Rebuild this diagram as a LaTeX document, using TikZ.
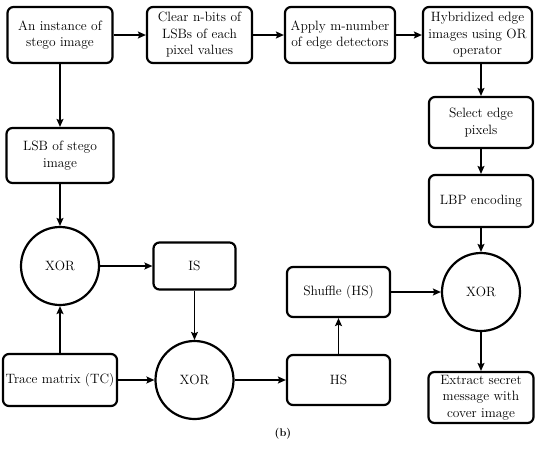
\documentclass[tikz,border=0pt]{standalone}
\usetikzlibrary{arrows.meta}
\begin{document}
\begin{tikzpicture}[x=1pt,y=-1pt,
  box/.style={draw,line width=2.2pt,rounded corners=6pt,align=center,inner sep=0pt,
    font=\fontsize{13.5}{16.5}\selectfont},
  opc/.style={draw,circle,line width=2.2pt,minimum size=78pt,inner sep=0pt,
    font=\fontsize{13.5}{16.5}\selectfont},
  arr/.style={line width=1.4pt,-{Stealth[length=8pt,width=7pt,inset=1.5pt]}}]
\useasboundingbox (0,0) rectangle (550,451);
\node[box,minimum width=105pt,minimum height=56pt] (a) at (60,35) {An instance of\\stego image};
\node[box,minimum width=105pt,minimum height=56pt] (b) at (199.5,35) {Clear n-bits of\\LSBs of each\\pixel values};
\node[box,minimum width=110pt,minimum height=56pt] (c) at (340,35) {Apply m-number\\of edge detectors};
\node[box,minimum width=109pt,minimum height=56pt] (d) at (477.5,35) {Hybridized edge\\images using OR\\operator};
\node[box,minimum width=104pt,minimum height=51pt] (e) at (481,122.5) {Select edge\\pixels};
\node[box,minimum width=104pt,minimum height=52pt] (f) at (481,201) {LBP encoding};
\node[box,minimum width=107pt,minimum height=55pt] (g) at (60,155.5) {LSB of stego\\image};
\node[opc] (x1) at (60,266) {XOR};
\node[box,minimum width=82pt,minimum height=47pt] (is) at (194.5,266) {IS};
\node[box,minimum width=114pt,minimum height=52pt] (tc) at (60,380) {Trace matrix (TC)};
\node[opc] (x2) at (194.5,380) {XOR};
\node[box,minimum width=103pt,minimum height=50pt] (hs) at (338.5,380) {HS};
\node[box,minimum width=103pt,minimum height=50pt] (sh) at (338.5,292) {Shuffle (HS)};
\node[opc] (x3) at (481,292) {XOR};
\node[box,minimum width=105pt,minimum height=51pt] (ex) at (481,397.5) {Extract secret\\message with\\cover image};
\node[font=\fontsize{11}{13}\selectfont\bfseries] (lbl) at (283,434) {(b)};
\draw[arr] (a) -- (b);
\draw[arr] (b) -- (c);
\draw[arr] (c) -- (d);
\draw[arr] (d.south -| e.north) -- (e.north);
\draw[arr] (e) -- (f);
\draw[arr] (f) -- (x3);
\draw[arr] (a) -- (g);
\draw[arr] (g) -- (x1);
\draw[arr] (tc) -- (x1);
\draw[arr] (x1) -- (is);
\draw[arr] (is) -- (x2);
\draw[arr] (tc) -- (x2);
\draw[arr] (x2) -- (hs);
\draw[arr] (hs.north -| sh.south) -- (sh.south);
\draw[arr] (sh) -- (x3);
\draw[arr] (x3) -- (ex);
\end{tikzpicture}
\end{document}
